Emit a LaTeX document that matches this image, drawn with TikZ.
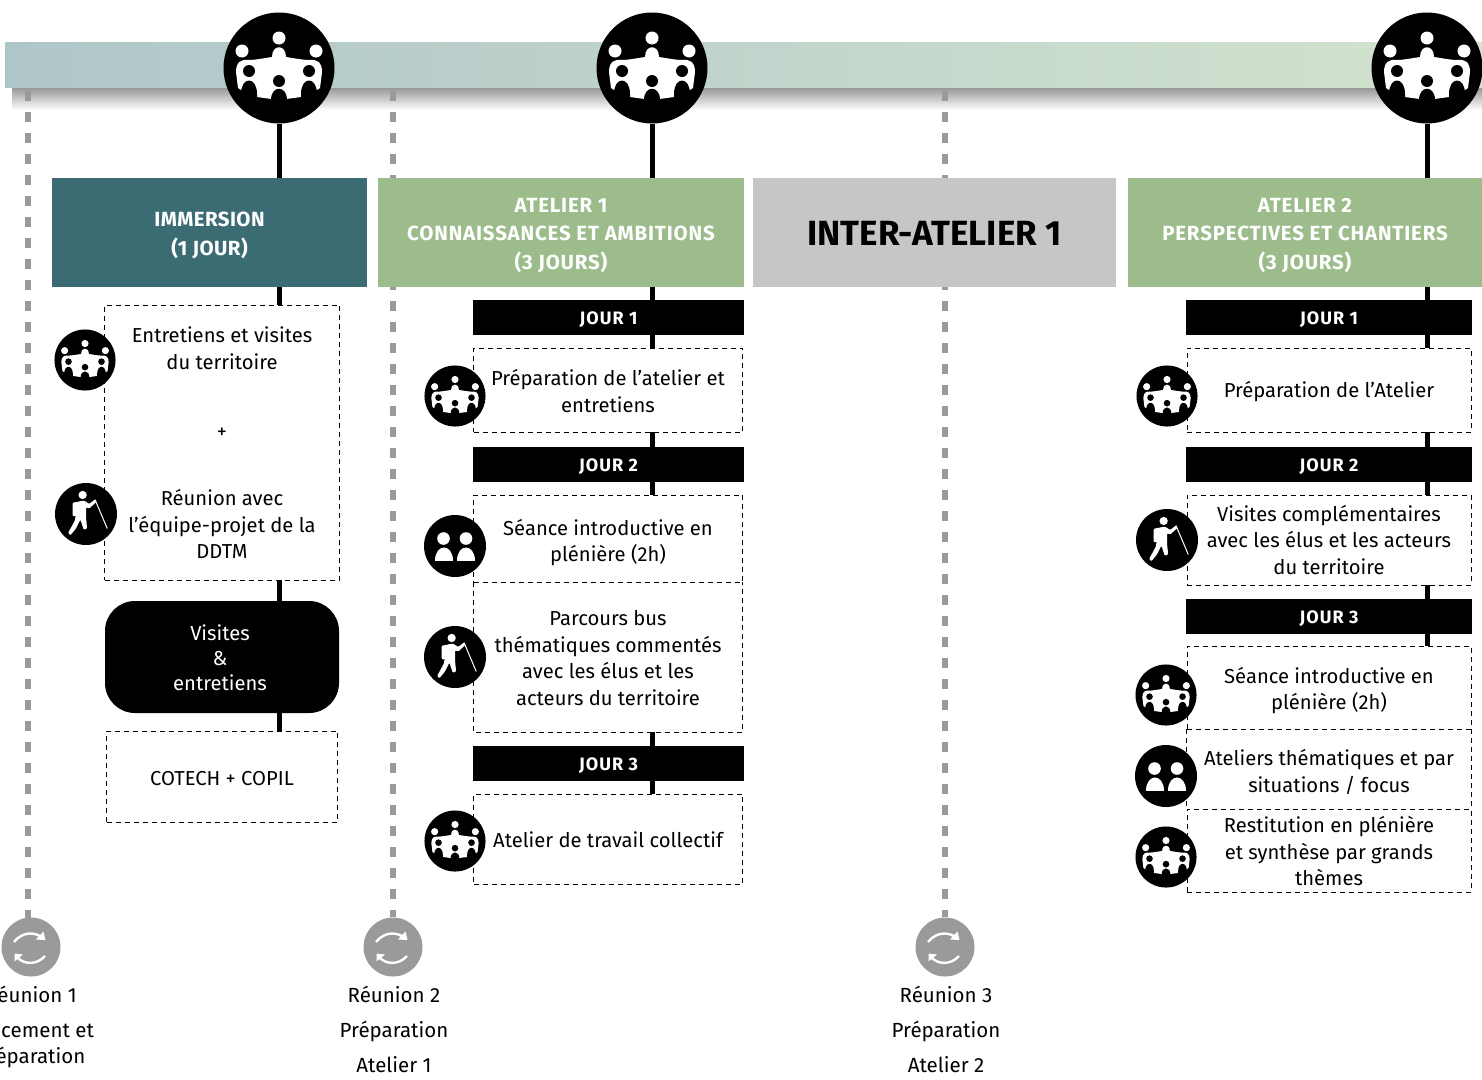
\documentclass[tikz,border=0pt]{standalone}
\usepackage{fontspec}
\setmainfont{Fira Sans}
\usetikzlibrary{calc}
\definecolor{teal1}{HTML}{3B6B73}
\definecolor{green1}{HTML}{9CBD8B}
\definecolor{gray1}{HTML}{C6C6C6}
\definecolor{gray2}{HTML}{9A9A9A}
\definecolor{barL}{HTML}{AFC6C9}
\definecolor{barR}{HTML}{D3E3CE}
\tikzset{
  x=1pt,y=-1pt,
  headbox/.style={draw=none,inner sep=0pt,minimum height=109pt},
  headtext/.style={text=white,align=center,inner sep=0pt,font=\fontsize{20.5}{28.5}\selectfont\bfseries\addfontfeature{LetterSpace=4}},
  jour/.style={fill=black,text=white,inner sep=0pt,text depth=0pt,font=\fontsize{18}{22}\selectfont\bfseries\addfontfeature{LetterSpace=6}},
  dline/.style={draw=black,line width=.9pt,dash pattern=on 5pt off 4pt},
  dbox/.style={dline,inner sep=0pt},
  openbox/.style={inner sep=0pt},
  dtext/.style={inner sep=0pt,align=center,text=black,font=\fontsize{20.2}{26.5}\selectfont},
  link/.style={draw=black,line width=5pt},
  guide/.style={draw=gray2,line width=5.5pt,dash pattern=on 10pt off 11pt},
  caption/.style={font=\fontsize{20.5}{35}\selectfont,align=center,inner sep=0pt,anchor=north},
  pics/meeting/.style={code={
    \fill[black] (0,0) circle (55.5);
    \fill[white] (0,-30) circle (6.5) (-37,-17) circle (6.5) (37,-17) circle (6.5);
    \fill[white] (-43,4) .. controls (-43,-6) and (-38,-9) .. (-30,-8)
       .. controls (-24,-8) and (-14,-10) .. (-7,-11)
       .. controls (-7,-24) and (7,-24) .. (7,-11)
       .. controls (14,-10) and (24,-8) .. (30,-8)
       .. controls (38,-9) and (43,-6) .. (43,4)
       -- (41,20) -- (32,26) -- (22,29) -- (0,32) -- (-22,29) -- (-32,26) -- (-41,20) -- cycle;
    \fill[black] (-30,3) circle (6) (30,3) circle (6) (0,13) circle (6);
    \fill[black] (-38,26) .. controls (-38,8) and (-22,8) .. (-22,26) -- (-22,32) -- (-38,32) -- cycle;
    \fill[black] (38,26) .. controls (38,8) and (22,8) .. (22,26) -- (22,32) -- (38,32) -- cycle;
    \fill[black] (-8,40) -- (-8,32) .. controls (-8,17) and (8,17) .. (8,32) -- (8,40) -- cycle;
  }},
  pics/walker/.style={code={
    \fill[black] (0,0) circle (31);
    \begin{scope}[scale=1.12]
    \fill[white] (-3,-17) circle (3.7);
    \fill[white,rounded corners=1pt] (-12,-10) -- (-2,-12) -- (3,-9) -- (8,-13) -- (9.5,-11) -- (3,-5) -- (0,-6) -- (0,3) -- (1,13) -- (-2,14) -- (-5,5) -- (-9,13) -- (-14,19) -- (-16,17) -- (-10,6) -- (-8,-6) -- (-9,2) -- (-12,2) -- cycle;
    \draw[white,line width=1pt] (8,-13) -- (19,13);
    \end{scope}
  }},
  pics/duo/.style={code={
    \fill[black] (0,0) circle (31);
    \fill[white] (-11.5,-7.5) circle (6.3) (11,-7.5) circle (6.3);
    \fill[white] (-20.5,14.5) .. controls (-20.5,-3) and (-2.5,-3) .. (-2.5,14.5) -- cycle;
    \fill[white] (2,14.5) .. controls (2,-3) and (20,-3) .. (20,14.5) -- cycle;
  }},
  pics/sync/.style={code={
    \fill[gray2] (0,0) circle (29.5);
    \draw[white,line width=2.4pt] (-17,-5) .. controls (-9,-15) and (3,-16) .. (12,-9);
    \fill[white] (5,-7.5) -- (14.5,-7) -- (12.5,-15.5) -- cycle;
    \draw[white,line width=2.4pt] (14,9) .. controls (6,18) and (-7,18) .. (-14,10);
    \fill[white] (-16.5,6.5) -- (-8,7.5) -- (-16.5,14.5) -- cycle;
  }}
}
\newcommand{\blackdisc}[3]{\pic[scale=.55] at (#1,#2) {#3};}
\begin{document}
\begin{tikzpicture}
\useasboundingbox (0,0) rectangle (1482,1079);
% bar
\shade[top color=black!42,bottom color=white] (12,87) rectangle (1482,110);
\shade[left color=barL,right color=barR] (5,42) rectangle (1482,87);
% guides
\coordinate (g1t) at (28,91); \coordinate (g2t) at (393,91); \coordinate (g3t) at (945,91);
\node[circle,minimum size=59pt,inner sep=0pt] (s1) at (31,947) {};
\node[circle,minimum size=59pt,inner sep=0pt] (s2) at (393,947) {};
\node[circle,minimum size=59pt,inner sep=0pt] (s3) at (945,947) {};
\coordinate (g1b) at (28,918);
\draw[guide] (g1t) -- (g1b);
\draw[guide] (g2t) -- (s2.north);
\draw[guide] (g3t) -- (s3.north);
\pic at (s1) {sync}; \pic at (s2) {sync}; \pic at (s3) {sync};
% caption
\node[caption] (c1) at (31,986) {Réunion 1\\Lancement et\\[-9pt]Préparation};
\node[caption] (c2) at (394,986) {Réunion 2\\Préparation\\Atelier 1};
\node[caption] (c3) at (946,986) {Réunion 3\\Préparation\\Atelier 2};
% big icons
\node[circle,minimum size=111pt,inner sep=0pt] (m1) at (279,68) {};
\node[circle,minimum size=111pt,inner sep=0pt] (m2) at (652,68) {};
\node[circle,minimum size=111pt,inner sep=0pt] (m3) at (1427,68) {};
% headers
\node[headbox,fill=teal1,minimum width=315pt] (h1) at (209.5,232.5) {};
\node[headtext,font=\fontsize{20.5}{28.5}\selectfont\bfseries\addfontfeature{LetterSpace=2}] (h1t) at ([yshift=-3pt]h1.center) {IMMERSION\\(1 JOUR)};
\node[headbox,fill=green1,minimum width=366pt] (h2) at (561,232.5) {};
\node[headtext] (h2t) at ([yshift=-3pt]h2.center) {ATELIER 1\\CONNAISSANCES ET AMBITIONS\\(3 JOURS)};
\node[headbox,fill=gray1,minimum width=363pt] (h3) at (934.5,232.5) {};
\node[headtext,text=black,font=\fontsize{35}{40}\selectfont\bfseries] (h3t) at ([yshift=-1pt]h3.center) {INTER-ATELIER 1};
\node[headbox,fill=green1,minimum width=354pt] (h4) at (1305,232.5) {};
\node[headtext] (h4t) at ([yshift=-3pt]h4.center) {ATELIER 2\\PERSPECTIVES ET CHANTIERS\\(3 JOURS)};
% left column
\node[dbox,minimum width=235pt,minimum height=275pt] (a1) at (222,442.5) {};
\node[dtext] (a1t) at (222,348) {Entretiens et visites\\du territoire};
\node[dtext] (a1p) at (222,433) {+};
\node[dtext] (a1b) at (222,524) {Réunion avec\\l’équipe-projet de la\\DDTM};
\node[fill=black,rounded corners=30pt,minimum width=234pt,minimum height=112pt,inner sep=0pt] (a2) at (222,657) {};
\node[text=white,align=center,inner sep=0pt,font=\fontsize{20.2}{25}\selectfont] (a2t) at (220,658) {Visites\\\&\\entretiens};
\node[dbox,minimum width=231pt,minimum height=91pt] (a3) at (222,776.5) {};
\node[dtext] (a3t) at ([yshift=-2pt]a3.center) {COTECH + COPIL};
% middle column
\node[jour,minimum width=271pt,minimum height=35pt] (j11) at (608.5,317.5) {};
\node[jour,fill=none] (j11t) at ([yshift=-1pt]j11.center) {JOUR 1};
\node[dbox,minimum width=269pt,minimum height=84pt] (b1) at (608,390) {};
\node[dtext] (b1t) at ([yshift=-1pt]b1.center) {Préparation de l’atelier et\\entretiens};
\node[jour,minimum width=271pt,minimum height=35pt] (j12) at (608.5,464.5) {};
\node[jour,fill=none] (j12t) at ([yshift=-1pt]j12.center) {JOUR 2};
\node[dbox,minimum width=269pt,minimum height=87pt] (b2) at (608,538.5) {};
\node[dtext] (b2t) at ([yshift=-4pt]b2.center) {Séance introductive en\\plénière (2h)};
\node[openbox,minimum width=269pt,minimum height=150pt] (b3) at (608,657) {};
\draw[dline] (b3.north west) -- (b3.south west) -- (b3.south east) -- (b3.north east);
\node[dtext] (b3t) at ([yshift=-1pt]b3.center) {Parcours bus\\thématiques commentés\\avec les élus et les\\acteurs du territoire};
\node[jour,minimum width=271pt,minimum height=35pt] (j13) at (608.5,763.5) {};
\node[jour,fill=none] (j13t) at ([yshift=-1pt]j13.center) {JOUR 3};
\node[dbox,minimum width=269pt,minimum height=90pt] (b4) at (608,839) {};
\node[dtext] (b4t) at ([yshift=-1pt]b4.center) {Atelier de travail collectif};
% right column
\node[jour,minimum width=286pt,minimum height=35pt] (j21) at (1329,317.5) {};
\node[jour,fill=none] (j21t) at ([yshift=-1pt]j21.center) {JOUR 1};
\node[dbox,minimum width=284pt,minimum height=84pt] (d1) at (1329,390) {};
\node[dtext] (d1t) at ([yshift=-2pt]d1.center) {Préparation de l’Atelier};
\node[jour,minimum width=286pt,minimum height=35pt] (j22) at (1329,464.5) {};
\node[jour,fill=none] (j22t) at ([yshift=-1pt]j22.center) {JOUR 2};
\node[dbox,minimum width=284pt,minimum height=90pt] (d2) at (1329,540) {};
\node[dtext] (d2t) at (d2.center) {Visites complémentaires\\avec les élus et les acteurs\\du territoire};
\node[jour,minimum width=286pt,minimum height=35pt] (j23) at (1329,616.5) {};
\node[jour,fill=none] (j23t) at ([yshift=-1pt]j23.center) {JOUR 3};
\node[dbox,minimum width=284pt,minimum height=83pt] (d3) at (1329,687.5) {};
\node[dtext] (d3t) at ([yshift=-3pt]d3.center) {Séance introductive en\\plénière (2h)};
\node[openbox,minimum width=284pt,minimum height=80pt] (d4) at (1329,769) {};
\draw[dline] (d4.north west) -- (d4.south west);
\draw[dline] (d4.north east) -- (d4.south east);
\node[dtext] (d4t) at ([yshift=-3pt]d4.center) {Ateliers thématiques et par\\situations / focus};
\node[dbox,minimum width=284pt,minimum height=83pt] (d5) at (1329,850.5) {};
\node[dtext] (d5t) at ([yshift=-1pt]d5.center) {Restitution en plénière\\et synthèse par grands\\thèmes};
% links
\draw[link] (m1.south) -- (m1.south |- h1.north);
\draw[link] (m2.south) -- (m2.south |- h2.north);
\draw[link] (m3.south) -- (m3.south |- h4.north);
\draw[link] (h1.south -| m1.south) -- (a1.north -| m1.south);
\draw[link] (a1.south -| m1.south) -- (a2.north -| m1.south);
\draw[link] (a2.south -| m1.south) -- (a3.north -| m1.south);
\draw[link] (h2.south -| m2.south) -- (j11.north -| m2.south);
\draw[link] (j11.south -| m2.south) -- (b1.north -| m2.south);
\draw[link] (b1.south -| m2.south) -- (j12.north -| m2.south);
\draw[link] (j12.south -| m2.south) -- (b2.north -| m2.south);
\draw[link] (b3.south -| m2.south) -- (j13.north -| m2.south);
\draw[link] (j13.south -| m2.south) -- (b4.north -| m2.south);
\draw[link] (h4.south -| m3.south) -- (j21.north -| m3.south);
\draw[link] (j21.south -| m3.south) -- (d1.north -| m3.south);
\draw[link] (d1.south -| m3.south) -- (j22.north -| m3.south);
\draw[link] (j22.south -| m3.south) -- (d2.north -| m3.south);
\draw[link] (d2.south -| m3.south) -- (j23.north -| m3.south);
\draw[link] (j23.south -| m3.south) -- (d3.north -| m3.south);
% big icons drawn
\pic at (m1) {meeting}; \pic at (m2) {meeting}; \pic at (m3) {meeting};
% small icons
\blackdisc{85}{360}{meeting}
\pic at (86,514) {walker};
\blackdisc{455}{396}{meeting}
\pic at (455,546) {duo};
\pic at (455,657) {walker};
\blackdisc{455}{841}{meeting}
\blackdisc{1167}{396}{meeting}
\pic at (1167,540) {walker};
\blackdisc{1166}{695}{meeting}
\pic at (1166,776) {duo};
\blackdisc{1166}{857}{meeting}
\end{tikzpicture}
\end{document}
